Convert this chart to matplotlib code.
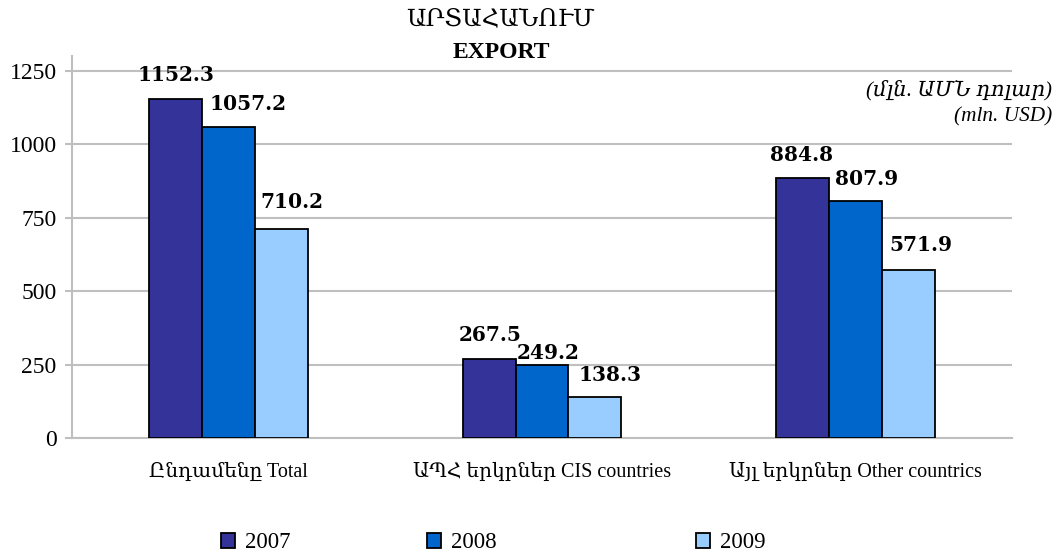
import matplotlib
matplotlib.use("Agg")
import matplotlib.pyplot as plt
from matplotlib.patches import Patch
import numpy as np

categories = ["Ընդամենը Total", "ԱՊՀ երկրներ CIS countries", "Այլ երկրներ Other countrics"]
years = ["2007", "2008", "2009"]
values_2007 = [1152.3, 267.5, 884.8]
values_2008 = [1057.2, 249.2, 807.9]
values_2009 = [710.2, 138.3, 571.9]
colors = ["#333399", "#0066CC", "#99CCFF"]
yticks = [0, 250, 500, 750, 1000, 1250]

# label placement tweaks (pixels): per series, per category
label_dx = [[0, 1, -1], [19, 6, 11], [10, 15, 13]]
label_dy = [[14, 14, 13], [13, 2, 12], [17, 12, 15]]

SERIF = ["Liberation Serif", "DejaVu Serif"]
plt.rcParams["font.family"] = SERIF

fig = plt.figure(figsize=(10.6, 5.57), dpi=100)
ax = fig.add_axes([72/1060, 1-438/557, (1012-72)/1060, (438-56)/557])

x = np.arange(len(categories))
w = 0.169
series = [values_2007, values_2008, values_2009]
for i, (vals, c) in enumerate(zip(series, colors)):
    bars = ax.bar(x + (i-1)*w, vals, width=w, color=c, edgecolor="black", linewidth=1.3, zorder=3)
    for j, (b, v) in enumerate(zip(bars, vals)):
        ax.annotate(f"{v:.1f}", (b.get_x()+b.get_width()/2, v),
                    xytext=(label_dx[i][j], label_dy[i][j]),
                    textcoords="offset pixels", ha="center", va="bottom",
                    fontsize=14.5, fontweight="bold", family=["DejaVu Serif"], zorder=5)

ax.set_xlim(-0.5, 2.5)
ax.set_ylim(0, 1300)
ax.set_yticks(yticks)
ax.set_yticklabels([str(t) for t in yticks], fontsize=17, family=SERIF)
ax.set_xticks(x)
ax.set_xticklabels(categories, fontsize=14.5, family=SERIF)
ax.tick_params(axis="x", length=0, pad=18)
ax.tick_params(axis="y", length=5, color="#BFBFBF", pad=6, width=1.5)
ax.grid(axis="y", color="#BFBFBF", linewidth=1.5, zorder=0)
for s in ["top", "right"]:
    ax.spines[s].set_visible(False)
ax.spines["left"].set_color("#BFBFBF")
ax.spines["left"].set_linewidth(1.5)
ax.spines["bottom"].set_color("#BFBFBF")
ax.spines["bottom"].set_linewidth(1.5)

fig.text(500/1060, 1-20/557, "ԱՐՏԱՀԱՆՈՒՄ", ha="center", va="center", fontsize=17.5, family=SERIF)
fig.text(501/1060, 1-52/557, "EXPORT", ha="center", va="center", fontsize=17, fontweight="bold", family=SERIF)
fig.text(1052/1060, 1-90/557, "(մլն. ԱՄՆ դոլար)", ha="right", va="center", fontsize=15.3, style="italic", family=SERIF)
fig.text(1052/1060, 1-117/557, "(mln. USD)", ha="right", va="center", fontsize=15.3, style="italic", family=SERIF)

leg_x = [227, 433, 702]
for yr, c, lx in zip(years, colors, leg_x):
    h = Patch(facecolor=c, edgecolor="black", linewidth=1.3)
    fig.legend([h], [yr], loc="center left", bbox_to_anchor=(lx/1060 - 0.006, 1-543/557),
               frameon=False, prop={"family": SERIF, "size": 16.5}, handlelength=0.62, handleheight=0.62,
               handletextpad=0.45, borderpad=0, borderaxespad=0)

fig.savefig("out.png", dpi=100)
